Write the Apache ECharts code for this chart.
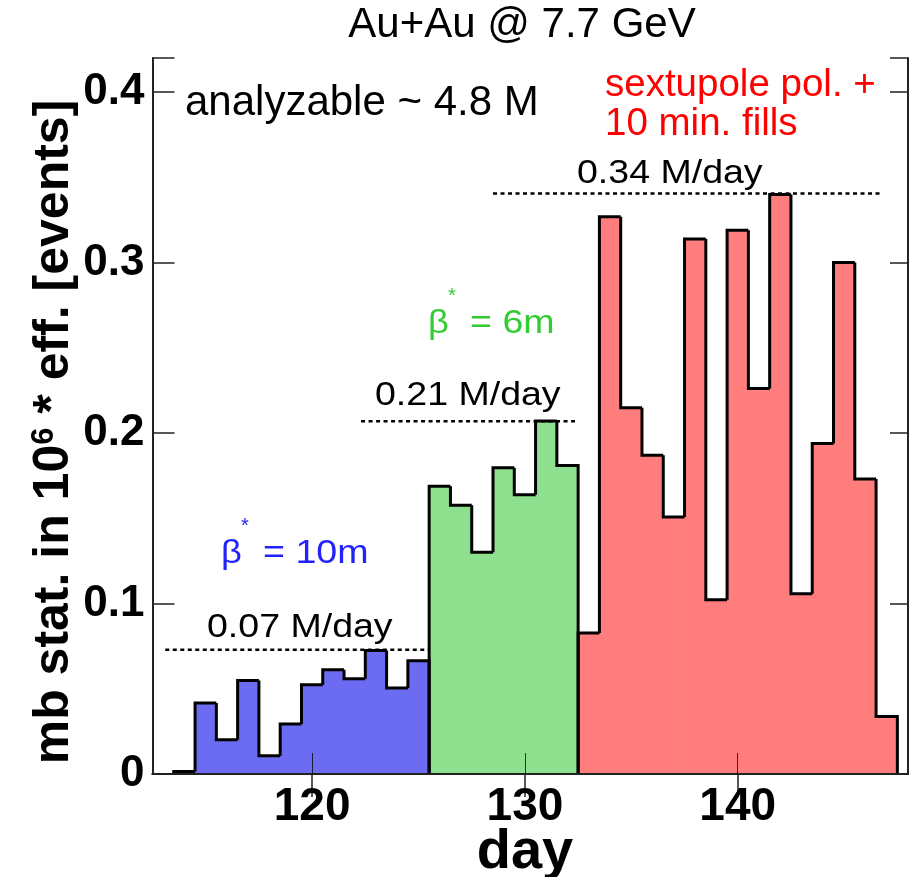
<!DOCTYPE html>
<html>
<head>
<meta charset="utf-8">
<script src="https://cdn.jsdelivr.net/npm/echarts@6/dist/echarts.min.js"></script>
<style>html,body{margin:0;padding:0;background:#fff;}#c{width:910px;height:877px;}</style>
</head>
<body>
<div id="c"></div>
<script>
// ---- data ----
const blueDays   = [114,115,116,117,118,119,120,121,122,123,124,125];
const blueValues = [0.0015,0.0417,0.0201,0.0548,0.0107,0.0293,0.0524,0.0612,0.0558,0.0724,0.0505,0.0665];
const greenDays   = [126,127,128,129,130,131,132];
const greenValues = [0.1688,0.1577,0.1301,0.1796,0.1638,0.2070,0.1809];
const redDays   = [133,134,135,136,137,138,139,140,141,142,143,144,145,146,147];
const redValues = [0.0827,0.3269,0.2148,0.1870,0.1508,0.3139,0.1022,0.3190,0.2261,0.3400,0.1058,0.1938,0.3000,0.1731,0.0338];
const avgLevels = [0.0729, 0.2069, 0.3405];
const avgStart  = [113.1, 122.3, 128.5];
const avgEnd    = [125.5, 132.5, 146.8];
const avgLabels = ['0.07 M/day', '0.21 M/day', '0.34 M/day'];
const xTicks = [120, 130, 140];

const FONT = 'Liberation Sans, Arial, sans-serif';
const chart = echarts.init(document.getElementById('c'), null, {renderer: 'canvas'});

function histSeries(days, values, fill) {
  return {
    type: 'custom',
    xAxisIndex: 0, yAxisIndex: 0,
    z: 2,
    data: days.map((d, i) => [d, values[i]]),
    renderItem: function (params, api) {
      const i = params.dataIndex;
      const d = api.value(0), v = api.value(1);
      const prev = i > 0 ? values[i - 1] : 0;
      const last = i === days.length - 1;
      const pL = api.coord([d - 0.5, v]);
      const pR = api.coord([d + 0.5, v]);
      const p0R = api.coord([d + 0.5, 0]);
      const p0L = api.coord([d - 0.5, 0]);
      const pPrev = api.coord([d - 0.5, prev]);
      const pts = [pPrev, pL, pR];
      if (last) pts.push(p0R);
      return {
        type: 'group',
        children: [
          {type: 'rect', z2: 0, shape: {x: pL[0] - 0.4, y: pL[1], width: pR[0] - pL[0] + 0.8, height: p0L[1] - pL[1]}, style: {fill: fill}},
          {type: 'polyline', z2: 20, shape: {points: pts}, style: {stroke: '#000', lineWidth: 3, fill: null, lineJoin: 'miter'}}
        ]
      };
    }
  };
}

const avgSeries = avgLevels.map((lv, i) => ({
  type: 'line',
  xAxisIndex: 0, yAxisIndex: 0,
  z: 3,
  symbol: 'none',
  silent: true,
  data: [[avgStart[i], lv], [avgEnd[i], lv]],
  lineStyle: {color: '#000', width: 2.5, type: [4, 3.5]}
}));

const yFmt = v => {
  const k = Math.round(v * 10);
  if (Math.abs(v * 10 - k) > 1e-6) return '';
  return k === 0 ? '0' : (k / 10).toFixed(1);
};

const axisCommonX = {
  type: 'value', min: 112.5, max: 148,
  splitLine: {show: false},
  axisLine: {show: true, lineStyle: {color: '#222', width: 2}},
};
const axisCommonY = {
  type: 'value', min: 0, max: 0.42, interval: 0.1,
  splitLine: {show: false},
  axisLine: {show: true, lineStyle: {color: '#222', width: 2}},
};

const option = {
  animation: false,
  backgroundColor: '#fff',
  grid: {left: 152.5, right: 2, top: 58, bottom: 103, outerBoundsMode: 'none', containLabel: false},
  xAxis: [
    Object.assign({}, axisCommonX, {
      position: 'bottom', z: 10,
      axisTick: {show: true, inside: true, length: 21, customValues: xTicks, lineStyle: {color: 'rgba(0,0,0,0.75)', width: 1}},
      axisLabel: {show: true, customValues: xTicks, margin: 10, fontSize: 46, fontWeight: 'bold', color: '#000', fontFamily: FONT}
    }),
    Object.assign({}, axisCommonX, {
      position: 'top', z: 10,
      axisTick: {show: true, inside: true, length: 23, customValues: xTicks, lineStyle: {color: '#222', width: 1.5}},
      axisLabel: {show: false}
    })
  ],
  yAxis: [
    Object.assign({}, axisCommonY, {
      position: 'left', z: 10,
      axisTick: {show: true, inside: true, length: 22, lineStyle: {color: '#222', width: 1.5}},
      axisLabel: {show: true, margin: 8, fontSize: 44, fontWeight: 'bold', color: '#000', fontFamily: FONT, formatter: yFmt, showMaxLabel: true}
    }),
    Object.assign({}, axisCommonY, {
      position: 'right', z: 10,
      axisTick: {show: true, inside: true, length: 18, lineStyle: {color: '#222', width: 1.5}},
      axisLabel: {show: false}
    })
  ],
  series: [
    histSeries(blueDays, blueValues, '#6c6cf2'),
    histSeries(greenDays, greenValues, '#8ee08e'),
    histSeries(redDays, redValues, '#ff7d7d')
  ].concat(avgSeries),
  graphic: [
    {type: 'text', x: 522, y: 25, style: {text: 'Au+Au @ 7.7 GeV', font: '42px ' + FONT, fill: '#000', align: 'center', verticalAlign: 'middle'}},
    {type: 'text', x: 185, y: 103.5, style: {text: 'analyzable ~ 4.8 M', font: '42px ' + FONT, fill: '#000', align: 'left', verticalAlign: 'middle'}},
    {type: 'text', x: 605, y: 85, style: {text: 'sextupole pol. +', font: '38.5px ' + FONT, fill: '#ff0000', align: 'left', verticalAlign: 'middle'}},
    {type: 'text', x: 605, y: 124, style: {text: '10 min. fills', font: '38.5px ' + FONT, fill: '#ff0000', align: 'left', verticalAlign: 'middle'}},
    {type: 'text', x: 577, y: 173.5, scaleX: 1.12, style: {text: avgLabels[2], font: '33.5px ' + FONT, fill: '#000', align: 'left', verticalAlign: 'middle'}},
    {type: 'text', x: 375, y: 395.5, scaleX: 1.12, style: {text: avgLabels[1], font: '33.5px ' + FONT, fill: '#000', align: 'left', verticalAlign: 'middle'}},
    {type: 'text', x: 207, y: 628, scaleX: 1.12, style: {text: avgLabels[0], font: '33.5px ' + FONT, fill: '#000', align: 'left', verticalAlign: 'middle'}},
    // beta* = 6m (green)
    {type: 'text', x: 428, y: 324, scaleX: 1.1, style: {text: 'β', font: '33px ' + FONT, fill: '#33cc33', align: 'left', verticalAlign: 'middle'}},
    {type: 'text', x: 452, y: 296, style: {text: '*', font: '20px ' + FONT, fill: '#33cc33', align: 'center', verticalAlign: 'middle'}},
    {type: 'text', x: 470, y: 324, scaleX: 1.14, style: {text: '= 6m', font: '33px ' + FONT, fill: '#33cc33', align: 'left', verticalAlign: 'middle'}},
    // beta* = 10m (blue)
    {type: 'text', x: 221, y: 554, scaleX: 1.1, style: {text: 'β', font: '33px ' + FONT, fill: '#2222ff', align: 'left', verticalAlign: 'middle'}},
    {type: 'text', x: 245, y: 526, style: {text: '*', font: '20px ' + FONT, fill: '#2222ff', align: 'center', verticalAlign: 'middle'}},
    {type: 'text', x: 263, y: 554, scaleX: 1.14, style: {text: '= 10m', font: '33px ' + FONT, fill: '#2222ff', align: 'left', verticalAlign: 'middle'}},
    // axis titles
    {type: 'text', x: 525, y: 853, style: {text: 'day', font: 'bold 56px ' + FONT, fill: '#000', align: 'center', verticalAlign: 'middle'}},
    {type: 'text', x: 54, y: 432, rotation: Math.PI / 2, style: {
      text: '{a|mb stat. in 10}{s|6}{a| * eff. [events]}',
      rich: {
        a: {fontSize: 50, fontWeight: 'bold', fontFamily: FONT, fill: '#000'},
        s: {fontSize: 31, fontWeight: 'bold', fontFamily: FONT, fill: '#000', verticalAlign: 'top'}
      },
      align: 'center', verticalAlign: 'middle'
    }}
  ]
};
chart.setOption(option);
</script>
</body>
</html>
